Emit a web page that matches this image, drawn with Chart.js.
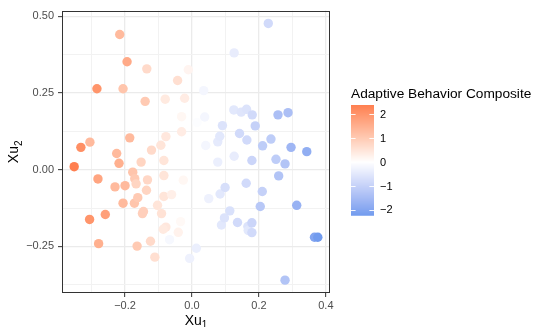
<!DOCTYPE html>
<html><head><meta charset="utf-8">
<script src="https://cdn.jsdelivr.net/npm/chart.js@4"></script>
<style>html,body{margin:0;padding:0;background:#fff;}#wrap{width:535px;height:327px;}</style>
</head><body><div id="wrap"><canvas id="c" width="535" height="327"></canvas></div>
<script>
// ---- data ----
const xu1 = [-0.352,-0.332,-0.305,-0.284,-0.216,-0.194,-0.206,-0.135,-0.140,-0.080,
  -0.043,-0.011,-0.022,-0.031,-0.031,-0.078,-0.093,-0.121,-0.186,-0.225,
  -0.218,-0.152,-0.084,-0.281,-0.177,-0.171,-0.167,-0.133,-0.084,-0.026,
  -0.230,-0.200,-0.136,-0.084,-0.061,-0.206,-0.172,-0.162,-0.103,-0.145,
  -0.148,-0.091,-0.259,-0.306,-0.034,-0.078,-0.086,-0.041,-0.067,-0.124,
  -0.164,-0.279,-0.111,-0.007,0.013,0.015,0.035,0.038,0.041,0.050,
  0.077,0.077,0.083,0.091,0.084,0.099,0.088,0.097,0.113,0.126,
  0.126,0.125,0.147,0.163,0.180,0.142,0.164,0.136,0.167,0.168,
  0.179,0.179,0.179,0.162,0.189,0.210,0.204,0.211,0.228,0.236,
  0.251,0.257,0.287,0.259,0.278,0.278,0.296,0.313,0.343,0.366,0.376];
const xu2 = [0.010,0.073,0.090,0.264,0.441,0.352,0.264,0.329,0.223,0.230,
  0.291,0.326,0.233,0.173,0.124,0.108,0.080,0.064,0.104,0.053,
  0.021,0.025,0.030,-0.030,-0.008,-0.029,-0.046,-0.033,-0.019,-0.034,
  -0.056,-0.052,-0.067,-0.087,-0.081,-0.109,-0.109,-0.091,-0.116,-0.136,
  -0.143,-0.143,-0.146,-0.162,-0.169,-0.187,-0.194,-0.204,-0.228,-0.233,
  -0.249,-0.241,-0.285,-0.289,-0.256,0.154,0.258,0.172,0.079,-0.094,
  0.025,0.091,0.109,0.144,-0.079,-0.058,-0.180,-0.157,-0.134,0.044,
  0.381,0.195,0.188,0.197,0.179,0.118,0.097,-0.172,-0.185,-0.198,
  -0.205,-0.173,0.030,-0.044,0.143,-0.071,-0.120,0.078,0.477,0.100,
  0.034,0.179,0.186,-0.020,0.019,-0.360,0.073,-0.116,0.059,-0.220,-0.220];
const abc = [2.39,2.1,1.3,2.0,1.3,1.6,1.1,0.7,1.0,0.4,
  0.6,0.2,0.35,0.15,0.35,0.45,0.5,0.7,1.3,1.3,
  1.5,0.8,0.5,1.7,1.1,1.0,0.8,0.75,0.5,0.15,
  1.3,1.3,0.8,0.5,0.3,1.3,1.1,1.0,0.5,0.9,
  0.9,0.55,1.8,2.0,0.12,0.45,0.4,0.25,-0.15,0.7,
  1.0,1.5,0.6,-0.3,-0.35,-0.05,-0.2,-0.2,-0.2,-0.3,
  -0.35,-0.45,-0.5,-0.6,-0.5,-0.7,-0.5,-0.6,-0.65,-0.4,
  -0.4,-0.5,-0.55,-0.6,-0.8,-0.8,-0.8,-0.8,-0.6,-0.5,
  -0.8,-0.9,-0.9,-0.8,-1.0,-1.0,-1.2,-1.1,-0.8,-1.1,
  -1.1,-1.4,-1.4,-1.3,-1.3,-1.3,-1.6,-1.7,-1.8,-2.0,-2.24];

const xMajorTicks = [-0.2, 0, 0.2, 0.4];
const xTickLabels = ['\u22120.2', '0.0', '0.2', '0.4'];
const xMinorTicks = [-0.3, -0.1, 0.1, 0.3];
const yMajorTicks = [-0.25, 0, 0.25, 0.5];
const yTickLabels = ['\u22120.25', '0.00', '0.25', '0.50'];
const yMinorTicks = [-0.375, -0.125, 0.125, 0.375];
const legendTicks = [-2, -1, 0, 1, 2];
const legendLabels = ['\u22122', '\u22121', '0', '1', '2'];
const legendTitle = 'Adaptive Behavior Composite';

// ---- colour scale (diverging, Lab interpolation) ----
const LOW = [100,149,237], MID = [255,255,255], HIGH = [255,127,80];
function toLin(c){ c/=255; return c<=0.04045? c/12.92 : Math.pow((c+0.055)/1.055,2.4); }
function toSrgb(c){ c = c<=0.0031308? 12.92*c : 1.055*Math.pow(c,1/2.4)-0.055; return Math.max(0,Math.min(255,Math.round(c*255))); }
function rgb2lab(c){
  const r=toLin(c[0]), g=toLin(c[1]), b=toLin(c[2]);
  const X=(0.4124*r+0.3576*g+0.1805*b)/0.95047, Y=(0.2126*r+0.7152*g+0.0722*b), Z=(0.0193*r+0.1192*g+0.9505*b)/1.08883;
  const f=t=>t>0.008856?Math.cbrt(t):7.787*t+16/116;
  const fx=f(X), fy=f(Y), fz=f(Z);
  return [116*fy-16, 500*(fx-fy), 200*(fy-fz)];
}
function lab2rgb(l){
  const fy=(l[0]+16)/116, fx=fy+l[1]/500, fz=fy-l[2]/200;
  const fi=t=>t*t*t>0.008856? t*t*t : (t-16/116)/7.787;
  const X=fi(fx)*0.95047, Y=fi(fy), Z=fi(fz)*1.08883;
  const r= 3.2406*X-1.5372*Y-0.4986*Z, g=-0.9689*X+1.8758*Y+0.0415*Z, b=0.0557*X-0.2040*Y+1.0570*Z;
  return [toSrgb(r),toSrgb(g),toSrgb(b)];
}
const LLOW=rgb2lab(LOW), LMID=rgb2lab(MID), LHIGH=rgb2lab(HIGH);
const vMin = Math.min(...abc), vMax = Math.max(...abc);
const maxAbs = Math.max(Math.abs(vMin), Math.abs(vMax));
function colourOf(v){
  let t = 0.5 + v/(2*maxAbs);
  t = Math.max(0, Math.min(1, t));
  let a, b, s;
  if (t < 0.5){ a=LLOW; b=LMID; s=t/0.5; } else { a=LMID; b=LHIGH; s=(t-0.5)/0.5; }
  const l=[a[0]+(b[0]-a[0])*s, a[1]+(b[1]-a[1])*s, a[2]+(b[2]-a[2])*s];
  const c=lab2rgb(l);
  return 'rgb('+c[0]+','+c[1]+','+c[2]+')';
}

// ---- scales ----
const FONT = "'Liberation Sans', Arial, Helvetica, sans-serif";
function expand(arr){ const mn=Math.min(...arr), mx=Math.max(...arr), d=(mx-mn)*0.05; return [mn-d, mx+d]; }
const [xMin, xMax] = expand(xu1);
const [yMin, yMax] = expand(xu2);
function buildTicks(major, minor){
  return major.map(v=>({value:v, mn:false})).concat(minor.map(v=>({value:v, mn:true}))).sort((a,b)=>a.value-b.value);
}
function labelFor(major, labels){
  return function(value){ const i = major.findIndex(m=>Math.abs(m-value)<1e-9); return i>=0 ? labels[i] : ''; };
}
const gridOpts = {
  color: c => (c.tick && c.tick.mn) ? '#F2F2F2' : '#EBEBEB',
  lineWidth: c => (c.tick && c.tick.mn) ? 1 : 1.3,
  tickColor: c => (c.tick && c.tick.mn) ? 'rgba(0,0,0,0)' : '#333333',
  tickWidth: 1,
  tickLength: 4,
  drawOnChartArea: true
};

function drawSubTitle(ctx, main, sub, x, y, rot){
  ctx.save();
  ctx.translate(x, y);
  if (rot) ctx.rotate(-Math.PI/2);
  ctx.fillStyle = '#000';
  ctx.textBaseline = 'alphabetic';
  ctx.font = '14px ' + FONT;
  const w1 = ctx.measureText(main).width;
  ctx.font = '10px ' + FONT;
  const w2 = ctx.measureText(sub).width;
  const tot = w1 + w2;
  ctx.textAlign = 'left';
  ctx.font = '14px ' + FONT;
  ctx.fillText(main, -tot/2, 0);
  ctx.font = '10px ' + FONT;
  ctx.fillText(sub, -tot/2 + w1, 3.5);
  ctx.restore();
}

const deco = {
  id: 'deco',
  afterDatasetsDraw(chart){
    const {ctx, chartArea:a} = chart;
    ctx.save();
    ctx.strokeStyle = '#333333';
    ctx.lineWidth = 1;
    ctx.strokeRect(Math.round(a.left)+0.5, Math.round(a.top)+0.5, Math.round(a.right-a.left)-1, Math.round(a.bottom-a.top)-1);
    ctx.restore();
  },
  afterDraw(chart){
    const {ctx, chartArea:a} = chart;
    // axis titles
    drawSubTitle(ctx, 'Xu', '1', (a.left+a.right)/2, 324.5, false);
    drawSubTitle(ctx, 'Xu', '2', 18, (a.top+a.bottom)/2, true);
    // colourbar legend
    const bx = 351, by = 105, bw = 23, bh = 110.7;
    ctx.save();
    ctx.fillStyle = '#000';
    ctx.font = '13.7px ' + FONT;
    ctx.textAlign = 'left';
    ctx.textBaseline = 'alphabetic';
    ctx.fillText(legendTitle, bx, 97.5);
    const n = Math.ceil(bh);
    for (let i=0;i<n;i++){
      const v = vMax - (i+0.5)/bh*(vMax-vMin);
      ctx.fillStyle = colourOf(v);
      ctx.fillRect(bx, by+i, bw, Math.min(1.2, bh-i));
    }
    const yOf = v => by + bh - (v - vMin)/(vMax - vMin)*bh;
    ctx.strokeStyle = 'rgba(255,255,255,0.9)';
    ctx.lineWidth = 1;
    ctx.font = '11px ' + FONT;
    ctx.textBaseline = 'middle';
    legendTicks.forEach((v,i)=>{
      const y = Math.round(yOf(v)) + 0.5;
      ctx.beginPath();
      ctx.moveTo(bx, y); ctx.lineTo(bx+4.6, y);
      ctx.moveTo(bx+bw-4.6, y); ctx.lineTo(bx+bw, y);
      ctx.stroke();
      ctx.fillStyle = '#000';
      ctx.fillText(legendLabels[i], 380, yOf(v)+0.5);
    });
    ctx.restore();
  }
};

const pts = xu1.map((x,i)=>({x:x, y:xu2[i]}));
new Chart(document.getElementById('c'), {
  type: 'scatter',
  data: { datasets: [{
    data: pts,
    pointRadius: 4.7,
    pointHoverRadius: 4.7,
    pointBorderWidth: 0,
    pointBackgroundColor: abc.map(colourOf),
    pointBorderColor: 'rgba(0,0,0,0)'
  }]},
  options: {
    responsive: false,
    devicePixelRatio: 1,
    animation: false,
    events: [],
    layout: { padding: { left: 0, right: 205, top: 7, bottom: 0 } },
    plugins: { legend: {display:false}, tooltip: {enabled:false} },
    scales: {
      x: {
        type: 'linear', min: xMin, max: xMax,
        afterBuildTicks: s => { s.ticks = buildTicks(xMajorTicks, xMinorTicks); },
        afterFit: s => { s.height = 34; },
        ticks: { callback: labelFor(xMajorTicks, xTickLabels), autoSkip: false, maxRotation: 0, color: '#4D4D4D', font: {family: FONT, size: 11}, padding: 2 },
        grid: gridOpts,
        border: { display: false },
        title: { display: false }
      },
      y: {
        type: 'linear', min: yMin, max: yMax,
        afterBuildTicks: s => { s.ticks = buildTicks(yMajorTicks, yMinorTicks); },
        afterFit: s => { s.width = 62; },
        ticks: { callback: labelFor(yMajorTicks, yTickLabels), autoSkip: false, color: '#4D4D4D', font: {family: FONT, size: 11}, padding: 4 },
        grid: gridOpts,
        border: { display: false },
        title: { display: false }
      }
    }
  },
  plugins: [deco]
});
</script>
</body></html>
